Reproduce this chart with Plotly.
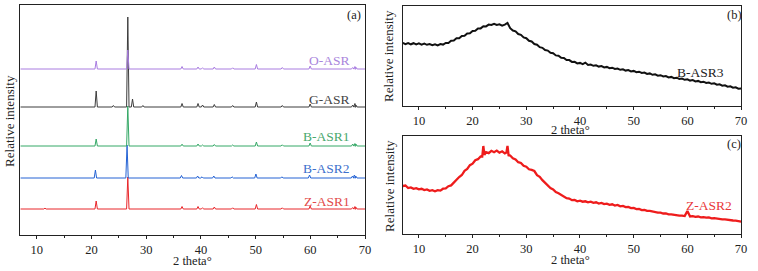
import plotly.graph_objects as go

# ---------------- data ----------------
# Panel (a): stacked XRD patterns (arbitrary offset units)
samples_a = ["Z-ASR1", "B-ASR2", "B-ASR1", "G-ASR", "O-ASR"]
baselines_a = [26, 57, 89, 128, 166]
colors_a = ["#e8262a", "#2563d4", "#35a866", "#3c3c3c", "#a97de0"]
label_colors_a = ["#e24a4a", "#3d70cc", "#4aa86e", "#454545", "#a985dc"]
label_y_a = [34, 67, 99, 136, 174]

peak_pos_z = [11.5, 20.86, 26.64, 36.55, 39.47, 40.3, 42.45, 45.8, 50.14, 54.87, 59.96, 67.74, 68.14, 68.32]
peak_h_z = [0.8, 8, 32, 2.5, 2.5, 1.2, 2, 1.2, 4.5, 1.2, 3, 1.5, 2.5, 1.8]
peak_pos_b2 = [20.72, 26.5, 36.45, 39.4, 40.2, 42.35, 45.7, 50.05, 54.8, 59.85, 67.7, 68.05, 68.3]
peak_h_b2 = [8, 33, 2.5, 2, 1.2, 2, 1.2, 4, 1.2, 3, 2, 3, 2]
peak_pos_b1 = [20.86, 26.64, 36.55, 39.47, 40.3, 42.45, 45.8, 50.14, 54.87, 59.96, 67.74, 68.14, 68.32]
peak_h_b1 = [7, 40, 1.8, 2, 1, 1.5, 1, 4, 1.2, 3, 2, 2.5, 2]
peak_pos_g = [20.86, 24.0, 26.64, 27.5, 29.4, 36.55, 39.47, 40.3, 42.45, 45.8, 50.14, 54.87, 59.96, 67.74, 68.14, 68.32]
peak_h_g = [16, 1.5, 90, 8, 1.5, 3.5, 3.5, 2, 2.5, 1.5, 5, 1.5, 3, 2, 3.5, 2]
peak_pos_o = [17.5, 20.86, 26.64, 36.55, 39.47, 40.3, 42.45, 45.8, 50.14, 54.87, 59.96, 67.74, 68.14, 68.32]
peak_h_o = [0.6, 8, 19, 2.5, 2, 1.2, 2, 1.2, 4.5, 1.5, 3, 1.5, 2.5, 1.8]

# Panel (b): B-ASR3
theta_b = [7.0, 7.5, 8.0, 8.5, 9.0, 9.5, 10.0, 10.5, 11.0, 11.5, 12.0, 12.5, 13.0, 13.5, 14.0, 14.5,
           15.0, 15.5, 16.0, 16.5, 17.0, 17.5, 18.0, 18.5, 19.0, 19.5, 20.0, 20.5, 21.0, 21.5, 22.0,
           22.5, 23.0, 23.5, 24.0, 24.5, 25.0, 25.5, 26.0, 26.5, 27.0, 27.5, 28.0, 28.5, 29.0, 29.5,
           30.0, 30.5, 31.0, 31.5, 32.0, 32.5, 33.0, 33.5, 34.0, 34.5, 35.0, 35.5, 36.0, 36.5, 37.0,
           37.5, 38.0, 38.5, 39.0, 39.5, 40.0, 40.5, 41.0, 41.5, 42.0, 42.5, 43.0, 43.5, 44.0, 44.5,
           45.0, 45.5, 46.0, 46.5, 47.0, 47.5, 48.0, 48.5, 49.0, 49.5, 50.0, 50.5, 51.0, 51.5, 52.0,
           52.5, 53.0, 53.5, 54.0, 54.5, 55.0, 55.5, 56.0, 56.5, 57.0, 57.5, 58.0, 58.5, 59.0, 59.5,
           60.0, 60.5, 61.0, 61.5, 62.0, 62.5, 63.0, 63.5, 64.0, 64.5, 65.0, 65.5, 66.0, 66.5, 67.0,
           67.5, 68.0, 68.5, 69.0, 69.5, 70.0]
int_b = [62.6, 61.3, 62.4, 61.2, 62.3, 61.1, 62.1, 60.9, 61.9, 60.7, 61.5, 60.3, 61.2, 60.1, 61.5, 60.9,
         62.5, 62.5, 64.7, 65.0, 67.2, 67.3, 69.5, 69.8, 72.0, 72.3, 74.5, 74.8, 77.0, 77.1, 79.2,
         79.1, 80.9, 80.5, 81.7, 80.5, 81.2, 79.9, 80.9, 82.5, 77.3, 75.0, 74.2, 71.5, 70.7, 68.1,
         67.3, 64.7, 64.0, 61.5, 60.8, 58.3, 57.7, 55.4, 54.9, 52.7, 52.3, 50.1, 49.8, 47.7, 47.5,
         45.5, 45.4, 43.6, 43.7, 42.1, 42.6, 41.4, 42.9, 40.5, 41.0, 39.7, 40.2, 38.9, 39.4, 38.1,
         38.6, 37.3, 37.8, 36.5, 37.0, 35.7, 36.2, 34.9, 35.4, 34.1, 34.6, 33.3, 33.8, 32.5, 33.0,
         31.6, 32.1, 30.7, 31.2, 29.8, 30.3, 29.0, 29.5, 28.1, 28.6, 27.3, 27.8, 26.5, 27.0, 25.7,
         26.2, 24.9, 25.4, 24.1, 24.6, 23.3, 23.8, 22.5, 23.0, 21.7, 22.2, 20.8, 21.2, 19.8, 20.2,
         18.8, 19.2, 17.8, 18.2, 16.8, 17.0]

# Panel (c): Z-ASR2
theta_c = [7.0, 7.5, 8.0, 8.5, 9.0, 9.5, 10.0, 10.5, 11.0, 11.5, 12.0, 12.5, 13.0, 13.5, 14.0, 14.5,
           15.0, 15.5, 16.0, 16.5, 17.0, 17.5, 18.0, 18.5, 19.0, 19.5, 20.0, 20.5, 21.0, 21.5, 21.8,
           22.0, 22.2, 22.5, 23.0, 23.5, 24.0, 24.5, 25.0, 25.5, 26.0, 26.3, 26.5, 26.7, 27.0, 27.5,
           28.0, 28.5, 29.0, 29.5, 30.0, 30.5, 31.0, 31.5, 32.0, 32.5, 33.0, 33.5, 34.0, 34.5, 35.0,
           35.5, 36.0, 36.5, 37.0, 37.5, 38.0, 38.5, 39.0, 39.5, 40.0, 40.5, 41.0, 41.5, 42.0, 42.5,
           43.0, 43.5, 44.0, 44.5, 45.0, 45.5, 46.0, 46.5, 47.0, 47.5, 48.0, 48.5, 49.0, 49.5, 50.0,
           50.5, 51.0, 51.5, 52.0, 52.5, 53.0, 53.5, 54.0, 54.5, 55.0, 55.5, 56.0, 56.5, 57.0, 57.5,
           58.0, 58.5, 59.0, 59.5, 60.0, 60.5, 61.0, 61.5, 62.0, 62.5, 63.0, 63.5, 64.0, 64.5, 65.0,
           65.5, 66.0, 66.5, 67.0, 67.5, 68.0, 68.5, 69.0, 69.5, 70.0]
int_c = [48.0, 48.5, 46.0, 46.6, 45.2, 45.9, 44.6, 45.2, 43.9, 44.5, 43.2, 43.8, 42.7, 43.8, 43.4, 45.3,
         45.6, 47.8, 48.6, 51.6, 53.5, 57.0, 59.0, 63.2, 65.0, 68.8, 70.3, 73.8, 74.8, 77.5, 77.4,
         88.0, 79.2, 81.8, 80.8, 83.2, 81.8, 83.4, 81.3, 82.7, 80.6, 81.5, 88.0, 78.8, 78.5, 75.8,
         74.6, 71.8, 71.0, 68.2, 67.3, 64.7, 64.1, 63.0, 58.9, 57.2, 53.8, 51.4, 48.6, 46.0, 44.6,
         42.0, 40.8, 38.9, 37.6, 35.8, 35.4, 33.8, 34.0, 32.7, 33.3, 32.3, 32.7, 31.7, 32.3, 31.1,
         31.7, 30.5, 31.1, 29.9, 30.3, 29.1, 29.7, 28.5, 29.1, 27.7, 28.1, 26.9, 27.1, 25.9, 26.0,
         24.9, 25.1, 23.9, 24.1, 23.1, 23.1, 22.3, 22.1, 21.3, 21.3, 20.5, 20.5, 19.7, 19.7, 19.1,
         19.1, 18.3, 18.3, 17.9, 23.0, 17.5, 17.9, 17.1, 17.5, 16.7, 16.9, 16.3, 16.5, 15.7, 15.9,
         15.3, 15.3, 14.7, 14.7, 14.1, 14.1, 13.5, 13.3, 12.7, 12.3]

x_ticks = [10, 20, 30, 40, 50, 60, 70]

# ---------------- build figure ----------------
W, H = 758, 271
FONT = "Liberation Serif"


def px(x):
    return x / W


def py(y):
    return 1 - y / H


def pattern(pos, hts, base, w=0.22):
    xs, ys = [7.0], [base]
    for p, h in sorted(zip(pos, hts)):
        xs += [p - w, p, p + w]
        ys += [base, base + h, base]
    xs.append(70.0)
    ys.append(base)
    return xs, ys


fig = go.Figure()

peaks = [(peak_pos_z, peak_h_z), (peak_pos_b2, peak_h_b2), (peak_pos_b1, peak_h_b1),
         (peak_pos_g, peak_h_g), (peak_pos_o, peak_h_o)]
for name, (pp, hh), base, col in zip(samples_a, peaks, baselines_a, colors_a):
    xs, ys = pattern(pp, hh, base)
    fig.add_trace(go.Scatter(x=xs, y=ys, mode="lines", line=dict(color=col, width=1),
                             name=name, xaxis="x", yaxis="y", showlegend=False))

fig.add_trace(go.Scatter(x=theta_b, y=int_b, mode="lines", line=dict(color="#111111", width=2.0),
                         xaxis="x2", yaxis="y2", showlegend=False))
fig.add_trace(go.Scatter(x=theta_c, y=int_c, mode="lines", line=dict(color="#ee1c1c", width=2.3),
                         xaxis="x3", yaxis="y3", showlegend=False))

xcommon = dict(range=[7, 70], tickvals=x_ticks, ticks="outside", ticklen=3, tickwidth=1,
               tickcolor="#222", showline=True, linecolor="#222", linewidth=1, mirror=True,
               showgrid=False, zeroline=False,
               minor=dict(ticks="outside", ticklen=2, dtick=5, tick0=5, tickcolor="#222", showgrid=False),
               tickfont=dict(family=FONT, size=12.5, color="#222"))
ycommon = dict(showticklabels=False, ticks="", showline=True, linecolor="#222", linewidth=1,
               mirror=True, showgrid=False, zeroline=False)

fig.update_layout(
    width=W, height=H, margin=dict(l=0, r=0, t=0, b=0),
    paper_bgcolor="white", plot_bgcolor="white",
    xaxis=dict(domain=[px(20.5), px(368)], anchor="y", **xcommon),
    yaxis=dict(domain=[py(235), py(5)], anchor="x", range=[0, 230], **ycommon),
    xaxis2=dict(domain=[px(406), px(747)], anchor="y2", **xcommon),
    yaxis2=dict(domain=[py(105.5), py(6)], anchor="x2", range=[0, 99.5], **ycommon),
    xaxis3=dict(domain=[px(406), px(747)], anchor="y3", **xcommon),
    yaxis3=dict(domain=[py(234), py(136)], anchor="x3", range=[0, 98], **ycommon),
    font=dict(family=FONT, color="#222"),
)

ann = []
# sample labels panel (a)
for name, ly, lc in zip(samples_a, label_y_a, label_colors_a):
    ann.append(dict(x=67.6, y=ly, xref="x", yref="y", text=name, showarrow=False,
                    xanchor="right", yanchor="middle", font=dict(family=FONT, size=13.5, color=lc)))
ann.append(dict(x=67.2, y=33, xref="x2", yref="y2", text="B-ASR3", showarrow=False,
                xanchor="right", yanchor="middle", font=dict(family=FONT, size=13.5, color="#222")))
ann.append(dict(x=68.7, y=29, xref="x3", yref="y3", text="Z-ASR2", showarrow=False,
                xanchor="right", yanchor="middle", font=dict(family=FONT, size=13.5, color="#e8383a")))
# panel letters
for txt, xx, yy in [("(a)", 357, 15), ("(b)", 740, 15), ("(c)", 740, 144)]:
    ann.append(dict(x=px(xx), y=py(yy), xref="paper", yref="paper", text=txt, showarrow=False,
                    xanchor="center", yanchor="middle", font=dict(family=FONT, size=12.5, color="#222")))
# axis titles
for xx, yy in [(194, 261), (575, 129.5), (575, 260)]:
    ann.append(dict(x=px(xx), y=py(yy), xref="paper", yref="paper", text="2 theta°", showarrow=False,
                    xanchor="center", yanchor="middle", font=dict(family=FONT, size=12.5, color="#222")))
for xx, yy in [(10, 121), (392, 56), (392, 186)]:
    ann.append(dict(x=px(xx), y=py(yy), xref="paper", yref="paper", text="Relative intensity",
                    showarrow=False, textangle=-90, xanchor="center", yanchor="middle",
                    font=dict(family=FONT, size=13, color="#222")))
fig.update_layout(annotations=ann)

fig.write_html("out.html", config={"displayModeBar": False},
               post_script="document.body.style.margin='0';document.body.style.overflow='hidden';")
